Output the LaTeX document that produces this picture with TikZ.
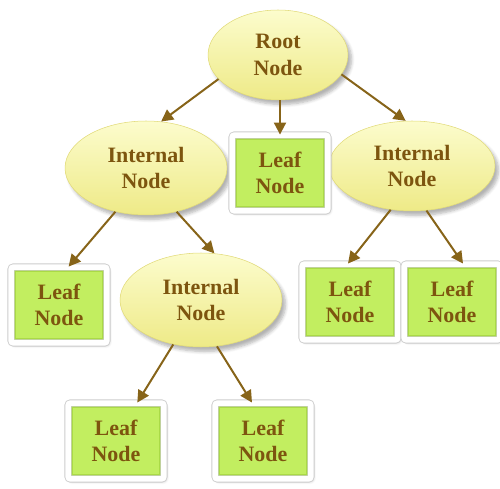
\documentclass[tikz,border=0pt]{standalone}
\usepackage{fontspec}
\setmainfont{Liberation Serif}
\usetikzlibrary{shapes.geometric,arrows.meta,shadows.blur}
\definecolor{txtbrown}{RGB}{125,85,15}
\definecolor{arrbrown}{RGB}{135,100,25}
\definecolor{elltop}{RGB}{252,252,205}
\definecolor{ellbot}{RGB}{238,234,135}
\definecolor{ellline}{RGB}{225,218,120}
\definecolor{leafface}{RGB}{194,238,96}
\definecolor{leafbevel}{RGB}{170,218,70}
\definecolor{frameline}{RGB}{205,205,205}
\tikzset{
  lbl/.style={font=\bfseries\fontsize{12.5}{15}\selectfont, text=txtbrown, align=center},
  inode/.style={lbl, ellipse, inner sep=0pt, top color=elltop, bottom color=ellbot,
    draw=ellline, line width=0.3pt,
    blur shadow={shadow xshift=2pt, shadow yshift=-2.5pt, shadow opacity=30, shadow blur steps=6}},
  leafbox/.style={lbl, rectangle, rounded corners=1.5pt, inner sep=0pt, minimum width=1.92cm, minimum height=1.52cm,
    draw=frameline, line width=0.5pt, double=white, double distance=0.11cm, fill=leafbevel,
    blur shadow={shadow xshift=1pt, shadow yshift=-1.2pt, shadow opacity=30, shadow blur steps=5},
    path picture={
      \fill[leafface, sharp corners] ([shift={(0.1cm,0.1cm)}]path picture bounding box.south west)
        rectangle ([shift={(-0.1cm,-0.1cm)}]path picture bounding box.north east);
    }},
  conn/.style={draw=arrbrown, line width=0.04cm, -{Triangle[length=0.24cm,width=0.24cm]}}
}
\begin{document}
\begin{tikzpicture}[x=0.02cm,y=-0.02cm]
\useasboundingbox (0,0) rectangle (500,489);
% internal nodes
\node[inode, minimum width=2.8cm, minimum height=1.8cm] (root) at (278,55) {Root\\Node};
\node[inode, minimum width=3.24cm, minimum height=1.88cm] (li) at (146,168) {Internal\\Node};
\node[inode, minimum width=3.32cm, minimum height=1.8cm] (ri) at (412,166) {Internal\\Node};
\node[inode, minimum width=3.24cm, minimum height=1.88cm] (lo) at (201,300) {Internal\\Node};
% leaves
\node[leafbox] (ml) at (280,173) {Leaf\\Node};
\node[leafbox] (ll) at (59,305) {Leaf\\Node};
\node[leafbox] (rl1) at (350,302) {Leaf\\Node};
\node[leafbox] (rl2) at (452,302) {Leaf\\Node};
\node[leafbox] (bl1) at (116,441) {Leaf\\Node};
\node[leafbox] (bl2) at (263,441) {Leaf\\Node};
% connectors
\draw[conn] (root.202) -- (li.72);
\draw[conn] (ml.north |- root.south) -- (ml.north);
\draw[conn] (root.343) -- (ri.98);
\draw[conn] (li.235) -- (ll.76);
\draw[conn] (li.305) -- (lo.74);
\draw[conn] (ri.244) -- (rl1.93);
\draw[conn] (ri.288) -- (rl2.74);
\draw[conn] (lo.238) -- (bl1.61);
\draw[conn] (lo.289) -- (bl2.106);
\end{tikzpicture}
\end{document}
